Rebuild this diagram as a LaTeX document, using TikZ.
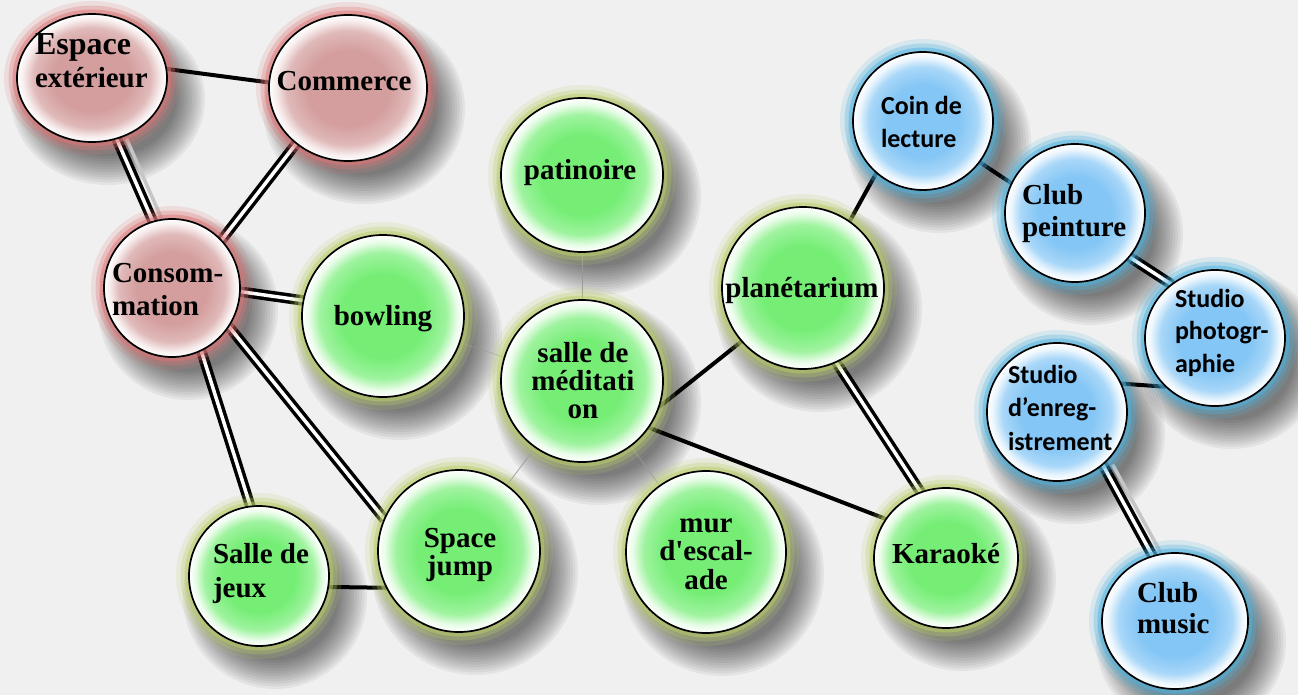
\documentclass[tikz,border=0pt]{standalone}
\usepackage{fontspec}
\setmainfont{Liberation Serif}
\newfontfamily\carl{Carlito}
\usetikzlibrary{shapes.geometric,calc}

\definecolor{bg}{RGB}{240,240,240}
\definecolor{redglow}{RGB}{222,118,118}
\definecolor{greenglow}{RGB}{186,206,106}
\definecolor{blueglow}{RGB}{80,180,224}
\definecolor{redin}{RGB}{212,158,158}
\definecolor{greenin}{RGB}{118,238,118}
\definecolor{bluein}{RGB}{132,198,245}

\pgfdeclareradialshading{redshade}{\pgfpointorigin}{color(0bp)=(redin);color(13bp)=(redin);color(19.5bp)=(redin!72!white);color(23bp)=(redin!18!white);color(25bp)=(white);color(50bp)=(white)}
\pgfdeclareradialshading{greenshade}{\pgfpointorigin}{color(0bp)=(greenin);color(13bp)=(greenin);color(19.5bp)=(greenin!70!white);color(23bp)=(greenin!15!white);color(25bp)=(white);color(50bp)=(white)}
\pgfdeclareradialshading{blueshade}{\pgfpointorigin}{color(0bp)=(bluein);color(13bp)=(bluein);color(19.5bp)=(bluein!70!white);color(23bp)=(bluein!15!white);color(25bp)=(white);color(50bp)=(white)}

\tikzset{
  geom/.style={ellipse, inner sep=0pt, outer sep=0pt},
  bub/.style={draw=black, line width=1.7pt, shade},
  txt/.style={inner sep=0pt, outer sep=0pt, text=black},
  serif/.style={txt, font=\bfseries\fontsize{29}{#1}\selectfont},
  serif/.default=30,
  carlito/.style={txt, font=\carl\bfseries\fontsize{26}{#1}\selectfont},
  carlito/.default=30,
  single/.style={draw=black, line width=4pt},
  dbl/.style={draw=black, line width=3.5pt, double=white, double distance=3.5pt},
  lightstripe/.style={draw=gray!45, line width=3.5pt},
  thinline/.style={draw=gray!80, line width=0.7pt},
  dotline/.style={draw=gray!80, line width=0.7pt, dash pattern=on 1pt off 1pt}
}

\newcommand\mlines[2]{\begin{tabular}[t]{@{}#1@{}}#2\end{tabular}}

\begin{document}
\begin{tikzpicture}[x=1pt, y=-1pt]
\fill[bg] (0,0) rectangle (1298,695);
\useasboundingbox (0,0) rectangle (1298,695);

\def\bubbles{esp/92/78/150/128/red, com/348/88/158/146/red, cons/172/288/136/138/red,
  bow/383/316/162/162/green, pat/582/175/162/154/green, med/582/381/162/162/green,
  pla/803/288/162/162/green, kar/946/558/144/140/green, mur/706/552/160/162/green,
  jeux/259/576/140/140/green, jump/459/551/162/162/green,
  coin/923/121/140/138/blue, peint/1075/213/140/138/blue, photo/1215/338/140/136/blue,
  enreg/1057/412/140/138/blue, music/1175/621/146/136/blue}

% bubble geometry (named nodes)
\foreach \n/\x/\y/\w/\h/\c in \bubbles {
  \node[geom, minimum width=\w pt, minimum height=\h pt] (\n) at (\x,\y) {};
}

% soft drop shadows
\foreach \n/\x/\y/\w/\h/\c in \bubbles {
  \foreach \k in {0,...,11} {
    \fill[black, opacity=0.052] (\x+16,\y+21) ellipse [x radius={\w/2+22-2.6*\k}, y radius={\h/2+22-2.6*\k}];
  }
}

% connectors
\draw[single] (esp.7) -- (com.176);
\draw[lightstripe] ($(esp.-68)+(10,0)$) -- ($(cons.106)+(10,0)$);
\draw[dbl] (esp.-68) -- (cons.106);
\draw[dbl] (com.-133) -- (cons.44);
\draw[dbl] (cons.-3) -- (bow.169);
\draw[dbl] (cons.-65) -- (jeux.97);
\draw[dbl] (cons.-34) -- (jump.157);
\draw[single] (jeux.-9) -- (jump.207);
\draw[dotline] (bow.-19) -- (med.163);
\draw[thinline] (pat.-90) -- (med.90);
\draw[thinline] (med.-125) -- (jump.54);
\draw[thinline] (med.-53) -- (mur.125);
\draw[single] (med.-19) -- (pla.-139);
\draw[single] (med.-35) -- (kar.147);
\draw[dbl] (pla.-66) -- (kar.111);
\draw[single] (pla.55) -- (coin.-132);
\draw[single] (coin.-36) -- (peint.155);
\draw[dbl] (peint.-39) -- (photo.129);
\draw[single] (photo.-135) -- (enreg.24);
\draw[lightstripe] ($(enreg.-49)+(10,0)$) -- ($(music.109)+(10,0)$);
\draw[dbl] (enreg.-49) -- (music.109);

% glows
\foreach \n/\x/\y/\w/\h/\c in \bubbles {
  \draw[draw=\c glow, line width=26pt, opacity=.16] (\n.center) ellipse [x radius=\w/2, y radius=\h/2];
  \draw[draw=\c glow, line width=17pt, opacity=.3] (\n.center) ellipse [x radius=\w/2, y radius=\h/2];
  \draw[draw=\c glow, line width=9pt, opacity=.5] (\n.center) ellipse [x radius=\w/2, y radius=\h/2];
}

% bubble bodies
\foreach \n/\x/\y/\w/\h/\c in \bubbles {
  \path[bub, shading=\c shade] (\n.center) ellipse [x radius=\w/2, y radius=\h/2];
}

% texts
\node[serif=33, anchor=base west] (esp-t) at (35,55) {\mlines{l}{{\fontsize{32}{33}\selectfont Espace}\\extérieur}};
\node[serif, anchor=base] (com-t) at (344,91) {Commerce};
\node[serif=33, anchor=base west] (cons-t) at (112,282) {\mlines{l}{Consom-\\mation}};
\node[serif, anchor=base] (bow-t) at (383,325) {bowling};
\node[serif, anchor=base] (pat-t) at (580,180) {patinoire};
\node[serif, anchor=base] (pla-t) at (802,297) {planétarium};
\node[serif=28, anchor=base] (med-t) at (583,362) {\mlines{c}{salle de\\méditati\\on}};
\node[carlito=33, anchor=base west] (coin-t) at (881,115) {\mlines{l}{Coin de\\lecture}};
\node[serif=32, anchor=base west] (peint-t) at (1022,205) {\mlines{l}{Club\\peinture}};
\node[carlito=32.5, anchor=base west] (photo-t) at (1175,307) {\mlines{l}{Studio\\photogr-\\aphie}};
\node[carlito=33.5, anchor=base west] (enreg-t) at (1008,383) {\mlines{l}{Studio\\d’enreg-\\istrement}};
\node[serif=34, anchor=base west] (jeux-t) at (213,563) {\mlines{l}{Salle de\\jeux}};
\node[serif=28, anchor=base] (jump-t) at (460,547) {\mlines{c}{Space\\jump}};
\node[serif=28, anchor=base] (mur-t) at (706,532) {\mlines{c}{mur\\d\textquotesingle escal-\\ade}};
\node[serif, anchor=base] (kar-t) at (946,563) {Karaoké};
\node[serif=31, anchor=base west] (music-t) at (1137,602) {\mlines{l}{Club\\music}};
\end{tikzpicture}
\end{document}
